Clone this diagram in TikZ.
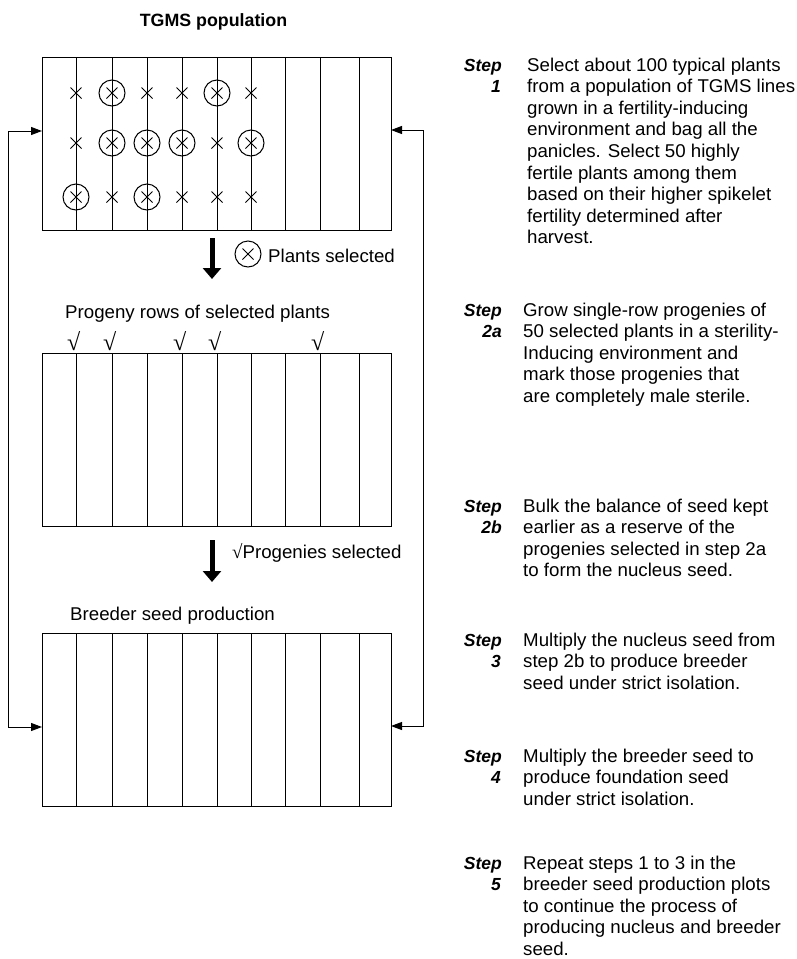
\documentclass[tikz,border=0pt]{standalone}
\usepackage{fontspec}
\setmainfont{Liberation Sans}
\newfontfamily\bodyfont[FakeStretch=1.01]{Liberation Sans}
\newfontfamily\tickfont{Liberation Serif}
\usetikzlibrary{arrows.meta}

\newcommand\bodytext{\bodyfont\fontsize{18.5pt}{21.6pt}\selectfont}
\newcommand\labeltext{\fontsize{17.5pt}{21.6pt}\selectfont\bfseries\itshape}
\newcommand\titletext{\fontsize{17.8pt}{21pt}\selectfont\bfseries}
\newcommand\ticktext{\tickfont\fontsize{24pt}{24pt}\selectfont}
\newcommand\smalltick{{\tickfont\fontsize{19pt}{19pt}\selectfont √}}

\begin{document}
\begin{tikzpicture}[x=1pt,y=-1pt,
  plot/.style={draw, line width=1pt, minimum width=349pt, minimum height=173pt,
    inner sep=0pt, outer sep=0pt},
  rowline/.style={line width=1pt},
  loopline/.style={line width=1pt,
    {Triangle[length=11pt,width=8pt]}-{Triangle[length=11pt,width=8pt]}},
  bigarrow/.style={line width=5pt, -{Triangle[length=11pt,width=18pt]}},
  txt/.style={inner sep=0pt, anchor=base west, font=\bodytext},
  para/.style={inner sep=0pt, anchor=base west},
  steplabel/.style={inner sep=0pt, anchor=base east, font=\labeltext},
  tick/.style={inner sep=0pt, anchor=base west, font=\ticktext},
  cross/.pic={\draw[line width=1pt] (-5.5,-5.5) -- (5.5,5.5) (-5.5,5.5) -- (5.5,-5.5);},
  ringcross/.pic={\draw[line width=1pt] (0,0) circle[radius=13pt]
    (-5.5,-5.5) -- (5.5,5.5) (-5.5,5.5) -- (5.5,-5.5);}
]
\useasboundingbox (0,0) rectangle (797,959);

% title
\node[inner sep=0pt, anchor=base, font=\titletext] (title) at (213.5,26) {TGMS population};

% the three field plots
\node[plot] (topbox) at (216.5,143.5) {};
\node[plot] (midbox) at (216.5,439.5) {};
\node[plot] (botbox) at (216.5,720) {};

\foreach \cx in {76,112,147,182,217,251,285,320,359} {
  \draw[rowline] (\cx,57) -- (\cx,230);
  \draw[rowline] (\cx,353) -- (\cx,526);
  \draw[rowline] (\cx,634) -- (\cx,806);
}

% plants in the TGMS population
\foreach \cx in {76,147,182,251} \pic at (\cx,93) {cross};
\foreach \cx in {112,217} \pic at (\cx,93) {ringcross};
\foreach \cx in {76,217} \pic at (\cx,143) {cross};
\foreach \cx in {112,147,182,251} \pic at (\cx,143) {ringcross};
\foreach \cx in {112,182,217,251} \pic at (\cx,197) {cross};
\foreach \cx in {76,147} \pic at (\cx,197) {ringcross};

% return loops
\coordinate (lt) at (8,131);
\coordinate (lb) at (8,727);
\coordinate (rt) at (423,130);
\coordinate (rb) at (423,726);
\draw[loopline] (topbox.west |- lt) -- (lt) -- (lb) -- (botbox.west |- lb);
\draw[loopline] (topbox.east |- rt) -- (rt) -- (rb) -- (botbox.east |- rb);

% selection arrows
\coordinate (a1s) at (212,238);
\coordinate (a1e) at (212,279);
\coordinate (a2s) at (212,540);
\coordinate (a2e) at (212,582);
\draw[bigarrow] (a1s) -- (a1e);
\draw[bigarrow] (a2s) -- (a2e);

% legend: plants selected
\pic at (248,254) {ringcross};
\node[txt] (plantsel) at (268,262) {Plants selected};

% progeny rows
\node[txt] (progeny) at (65,318) {Progeny rows of selected plants};
\foreach \cx/\nm in {76/ta,112/tb,182/tc,217/td,320/te}
  \node[tick] (\nm) at (\cx-9,350) {√};
\node[txt] (progsel) at (232,558) {\smalltick Progenies selected};

% breeder seed production
\node[txt] (breeder) at (70,620) {Breeder seed production};

% step descriptions
\node[steplabel] (s1a) at (502,71) {Step};
\node[steplabel] (s1b) at (501,92.6) {1};
\node[para] (s1) at (527,71) {\parbox[t]{300pt}{\raggedright\bodytext
  Select about 100 typical plants\\
  from a population of TGMS lines\\
  grown in a fertility-inducing\\
  environment and bag all the\\
  panicles. Select 50 highly\\
  fertile plants among them\\
  based on their higher spikelet\\
  fertility determined after\\
  harvest.}};

\node[steplabel] (s2aa) at (502,316) {Step};
\node[steplabel] (s2ab) at (502,337.6) {2a};
\node[para] (s2a) at (523,316) {\parbox[t]{300pt}{\raggedright\bodytext
  Grow single-row progenies of\\
  50 selected plants in a sterility-\\
  Inducing environment and\\
  mark those progenies that\\
  are completely male sterile.}};

\node[steplabel] (s2ba) at (502,512) {Step};
\node[steplabel] (s2bb) at (502,533.6) {2b};
\node[para] (s2b) at (523,512) {\parbox[t]{300pt}{\raggedright\bodytext
  Bulk the balance of seed kept\\
  earlier as a reserve of the\\
  progenies selected in step 2a\\
  to form the nucleus seed.}};

\node[steplabel] (s3a) at (502,646) {Step};
\node[steplabel] (s3b) at (501,667.6) {3};
\node[para] (s3) at (523,646) {\parbox[t]{300pt}{\raggedright\bodytext
  Multiply the nucleus seed from\\
  step 2b to produce breeder\\
  seed under strict isolation.}};

\node[steplabel] (s4a) at (502,762) {Step};
\node[steplabel] (s4b) at (501,783.6) {4};
\node[para] (s4) at (523,762) {\parbox[t]{300pt}{\raggedright\bodytext
  Multiply the breeder seed to\\
  produce foundation seed\\
  under strict isolation.}};

\node[steplabel] (s5a) at (502,869) {Step};
\node[steplabel] (s5b) at (501,890.6) {5};
\node[para] (s5) at (523,869) {\parbox[t]{300pt}{\raggedright\bodytext
  Repeat steps 1 to 3 in the\\
  breeder seed production plots\\
  to continue the process of\\
  producing nucleus and breeder\\
  seed.}};
\end{tikzpicture}
\end{document}
